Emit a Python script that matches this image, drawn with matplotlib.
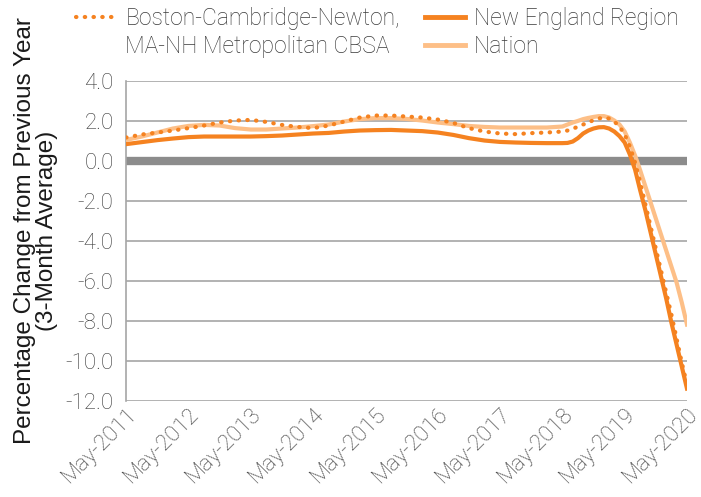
import numpy as np
import matplotlib
matplotlib.use("Agg")
from matplotlib import pyplot as plt
from matplotlib.lines import Line2D

# months since May-2011: quarterly readings, then monthly through the 2019-20 drop
months = list(range(0, 84, 3)) + list(range(84, 109))

boston = [1.15, 1.30, 1.40, 1.50, 1.62, 1.75, 1.90, 2.00, 2.03, 1.93,
          1.78, 1.68, 1.62, 1.75, 1.95, 2.15, 2.25, 2.25, 2.20, 2.15,
          2.05, 1.88, 1.62, 1.45, 1.35, 1.32, 1.37, 1.40,
          1.45, 1.50, 1.58, 1.70, 1.80, 1.90, 2.02, 2.10, 2.15, 2.10,
          1.95, 1.70, 1.30, 0.70, -0.10, -1.10, -2.20, -3.30, -4.40, -5.50,
          -6.60, -7.70, -8.90, -10.10, -11.20]
new_england = [0.82, 0.92, 1.02, 1.10, 1.17, 1.20, 1.20, 1.20, 1.20, 1.22,
               1.25, 1.30, 1.35, 1.38, 1.45, 1.50, 1.52, 1.53, 1.50, 1.47,
               1.40, 1.28, 1.12, 1.00, 0.93, 0.90, 0.88, 0.87,
               0.87, 0.88, 0.95, 1.12, 1.35, 1.50, 1.60, 1.66, 1.67, 1.60,
               1.45, 1.22, 0.90, 0.30, -0.45, -1.50, -2.50, -3.60, -4.70, -5.80,
               -6.90, -8.10, -9.20, -10.30, -11.40]
nation = [1.03, 1.20, 1.40, 1.60, 1.73, 1.78, 1.75, 1.62, 1.55, 1.55,
          1.60, 1.65, 1.72, 1.80, 1.95, 2.07, 2.12, 2.12, 2.08, 2.00,
          1.90, 1.82, 1.73, 1.68, 1.65, 1.65, 1.65, 1.65,
          1.70, 1.80, 1.90, 1.98, 2.07, 2.13, 2.18, 2.22, 2.22, 2.15,
          2.00, 1.80, 1.45, 0.90, 0.25, -0.50, -1.30, -2.10, -2.90, -3.70,
          -4.50, -5.30, -6.10, -7.10, -8.20]

tick_labels = ["May-%d" % y for y in range(2011, 2021)]
y_ticks = np.arange(-12, 4.1, 2)

DARK = "#F58220"
LIGHT = "#FDBF87"
GRID = "#A6A6A6"
TEXT = "#3A3A3A"

plt.rcParams["font.family"] = ["Roboto", "DejaVu Sans"]
plt.rcParams["font.weight"] = "light"

fig = plt.figure(figsize=(7.01, 4.97), dpi=100)
ax = fig.add_axes([0.18, 0.194, 0.80, 0.644])

for v in y_ticks:
    if v == 0:
        ax.axhline(0, color="#8C8C8C", lw=6, zorder=1)
    else:
        ax.axhline(v, color=GRID, lw=1.2, zorder=1)

ax.plot(months, nation, color=LIGHT, lw=3, zorder=3, solid_joinstyle="round")
ax.plot(months, new_england, color=DARK, lw=3, zorder=4, solid_joinstyle="round")
ax.plot(months, boston, color=DARK, lw=3, ls=(0, (0.1, 2.0)),
        dash_capstyle="round", zorder=5)

ax.set_xlim(0, 108)
ax.set_ylim(-12, 4)
ax.set_yticks(y_ticks)
ax.set_yticklabels(["%.1f" % v for v in y_ticks])
ax.set_xticks(range(0, 109, 12))
ax.set_xticklabels(tick_labels, rotation=45, ha="right", rotation_mode="anchor")
ax.tick_params(length=0, labelsize=16, colors=TEXT)
ax.tick_params(axis="y", pad=9)
ax.tick_params(axis="x", pad=2)
for s in ["top", "right", "bottom"]:
    ax.spines[s].set_visible(False)
ax.spines["left"].set_color(GRID)
ax.spines["left"].set_linewidth(1.2)

ax.set_ylabel("Percentage Change from Previous Year\n(3-Month Average)",
              fontsize=17.5, color="#1A1A1A", linespacing=1.0,
              family=["Liberation Sans", "DejaVu Sans"], weight="normal")
ax.yaxis.set_label_coords(-0.122, 0.53)

handles = [
    Line2D([], [], color=DARK, lw=3, ls=(0, (0.1, 2.0)), dash_capstyle="round"),
    Line2D([], [], color="none"),
    Line2D([], [], color=DARK, lw=3.5),
    Line2D([], [], color=LIGHT, lw=3.5),
]
labels = ["Boston-Cambridge-Newton,", "MA-NH Metropolitan CBSA",
          "New England Region", "Nation"]
leg = fig.legend(handles, labels, ncol=2, loc="upper left",
                 bbox_to_anchor=(76 / 701, 0.985), frameon=False, fontsize=16.5,
                 handlelength=1.75, handletextpad=0.4, columnspacing=1.1,
                 labelspacing=0.22, borderpad=0, borderaxespad=0,
                 labelcolor=TEXT)

fig.savefig("out.png", dpi=100)
